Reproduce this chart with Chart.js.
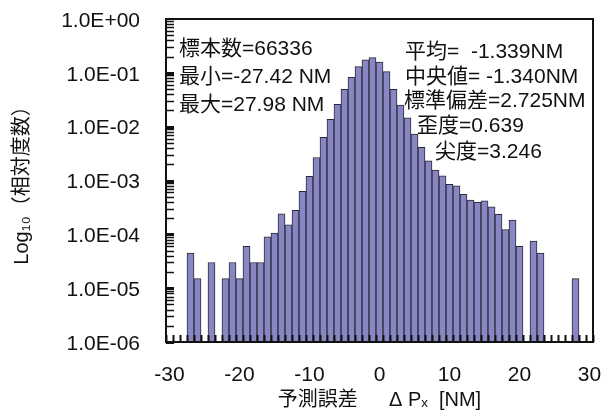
<!DOCTYPE html>
<html>
<head>
<meta charset="utf-8">
<script src="https://cdn.jsdelivr.net/npm/chart.js@4.4.1/dist/chart.umd.min.js"></script>
<style>
    body { margin: 0; background: #fff; }
    #wrap { width: 602px; height: 420px; }
</style>
</head>
<body>
<div id="wrap"><canvas id="histChart"></canvas></div>
<script>
// Bins of 1 NM, labelled by their upper edge
const categories = [
    -30, -29, -28, -27, -26, -25, -24, -23, -22, -21,
    -20, -19, -18, -17, -16, -15, -14, -13, -12, -11,
    -10, -9, -8, -7, -6, -5, -4, -3, -2, -1,
    0, 1, 2, 3, 4, 5, 6, 7, 8, 9,
    10, 11, 12, 13, 14, 15, 16, 17, 18, 19,
    20, 21, 22, 23, 24, 25, 26, 27, 28, 29, 30
];

// Relative frequency per bin (empty bins = null)
const relFreq = [
    null, null, null, 4.5e-5, 1.5e-5, null, 3.0e-5, null, 1.5e-5, 3.0e-5,
    1.5e-5, 6.0e-5, 3.0e-5, 3.0e-5, 9.0e-5, 1.06e-4, 2.4e-4, 1.5e-4, 2.8e-4, 6.3e-4,
    1.19e-3, 2.67e-3, 6.33e-3, 1.37e-2, 2.61e-2, 4.93e-2, 8.24e-2, 0.130, 0.175, 0.191,
    0.159, 0.105, 0.0493, 0.0252, 0.0146, 0.00728, 0.00412, 0.00232, 0.00156, 0.00122,
    8.5e-4, 7.98e-4, 5.54e-4, 4.32e-4, 3.92e-4, 4.18e-4, 3.24e-4, 2.35e-4, 1.23e-4, 1.84e-4,
    6.0e-5, null, 7.5e-5, 4.5e-5, null, null, null, null, 1.5e-5, null, null
];

const yTicks = [1e-6, 1e-5, 1e-4, 1e-3, 1e-2, 1e-1, 1];

const statsLeft = ['標本数=66336', '最小=-27.42 NM', '最大=27.98 NM'];
const statsRight = ['平均=  -1.339NM', '中央値= -1.340NM', '標準偏差=2.725NM', '歪度=0.639', '尖度=3.246'];

const FONT = '"Liberation Sans", Arial, "Noto Sans CJK JP", sans-serif';

function expLabel(v) {
    const e = Math.round(Math.log10(v));
    const sign = e < 0 ? '-' : '+';
    return '1.0E' + sign + String(Math.abs(e)).padStart(2, '0');
}

// frame, inward tick marks and the statistics text
const decorPlugin = {
    id: 'decor',
    afterDatasetsDraw(chart) {
        const ctx = chart.ctx;
        const area = chart.chartArea;
        const xs = chart.scales.x;
        const ys = chart.scales.y;
        ctx.save();
        ctx.strokeStyle = '#111';

        // x ticks at bin edges
        ctx.lineWidth = 2;
        const half = (xs.getPixelForValue(1) - xs.getPixelForValue(0)) / 2;
        for (let i = 0; i <= categories.length; i++) {
            const x = Math.round(xs.getPixelForValue(i) - half) + 0.5;
            ctx.beginPath();
            ctx.moveTo(x, area.bottom);
            ctx.lineTo(x, area.bottom - 7);
            ctx.stroke();
        }

        // y ticks, minor 2..9 and major decades
        for (let e = -6; e < 0; e++) {
            for (let m = 1; m <= 9; m++) {
                const y = Math.round(ys.getPixelForValue(m * Math.pow(10, e))) + 0.5;
                ctx.lineWidth = m === 1 ? 3 : 1.5;
                ctx.beginPath();
                ctx.moveTo(area.left, y);
                ctx.lineTo(area.left + 8, y);
                ctx.stroke();
            }
        }

        // frame
        ctx.lineWidth = 2;
        ctx.strokeRect(area.left, area.top, area.right - area.left, area.bottom - area.top);

        // statistics
        ctx.fillStyle = '#111';
        ctx.font = '21px ' + FONT;
        ctx.textBaseline = 'middle';
        ctx.textAlign = 'left';
        const leftY = [49, 77, 105];
        statsLeft.forEach((t, i) => ctx.fillText(t, 179, leftY[i]));
        const rightX = [405, 405, 404, 417, 435];
        const rightY = [52, 77, 101, 126, 152];
        statsRight.forEach((t, i) => ctx.fillText(t, rightX[i], rightY[i]));
        ctx.restore();
    }
};

new Chart(document.getElementById('histChart'), {
    type: 'bar',
    data: {
        labels: categories,
        datasets: [{
            data: relFreq,
            backgroundColor: '#8987c3',
            borderColor: '#2a2a3a',
            borderWidth: 1,
            barPercentage: 1,
            categoryPercentage: 1
        }]
    },
    options: {
        responsive: true,
        maintainAspectRatio: false,
        animation: false,
        layout: { padding: { top: 19, right: 9, left: 0, bottom: 0 } },
        plugins: {
            legend: { display: false },
            tooltip: { enabled: false }
        },
        scales: {
            x: {
                type: 'category',
                grid: { display: false, drawTicks: false },
                border: { display: false },
                ticks: {
                    autoSkip: false,
                    maxRotation: 0,
                    padding: 21,
                    color: '#111',
                    font: { family: FONT, size: 21 },
                    callback: (v, i) => (categories[i] % 10 === 0 ? String(categories[i]) : '')
                },
                title: {
                    display: true,
                    text: '予測誤差　  Δ Pₓ  [NM]',
                    color: '#111',
                    font: { family: FONT, size: 20 },
                    padding: { top: 0, bottom: 8 }
                },
                afterFit(scale) {
                    scale.height = 78;
                    scale.paddingLeft = 0;
                    scale.paddingRight = 0;
                }
            },
            y: {
                type: 'logarithmic',
                min: 1e-6,
                max: 1,
                grid: { display: false, drawTicks: false },
                border: { display: false },
                afterBuildTicks(scale) {
                    scale.ticks = yTicks.map(v => ({ value: v, major: true }));
                },
                ticks: {
                    autoSkip: false,
                    padding: 26,
                    labelOffset: 2,
                    color: '#111',
                    font: { family: FONT, size: 21 },
                    callback: v => expLabel(v)
                },
                title: {
                    display: true,
                    text: 'Log₁₀（相対度数）',
                    color: '#111',
                    font: { family: FONT, size: 20 },
                    padding: { top: 10, bottom: 0 }
                },
                afterFit(scale) {
                    scale.width = 166;
                    scale.paddingTop = 0;
                    scale.paddingBottom = 0;
                }
            }
        }
    },
    plugins: [decorPlugin]
});
</script>
</body>
</html>
